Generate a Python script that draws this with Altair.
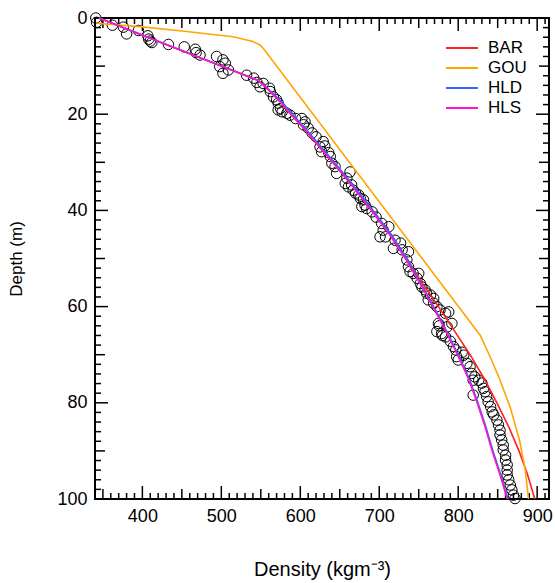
import altair as alt
import pandas as pd

# ---------------- data ----------------
obs_density = [341, 342, 362, 376, 395, 380, 407, 408, 410, 412, 433, 453, 467, 468, 473,
               494, 502, 505, 498, 509, 502, 532, 541, 545, 553, 549, 561, 562, 566, 570,
               572, 575, 572, 577, 583, 587, 594, 602, 606, 604, 610, 615, 620, 629, 631,
               625, 627, 636, 638, 640, 644, 663, 646, 659, 657, 665, 661, 667, 670, 674,
               676, 680, 682, 678, 684, 691, 696, 703, 712, 705, 708, 701, 720, 727, 718,
               729, 737, 735, 737, 739, 743, 750, 748, 752, 754, 758, 760, 765, 762, 769,
               769, 773, 777, 788, 784, 775, 792, 786, 776, 773, 779, 780, 784, 790, 794,
               797, 805, 807, 798, 800, 811, 815, 817, 821, 819, 826, 830, 832, 834, 819,
               836, 838, 841, 843, 845, 849, 851, 853, 853, 855, 857, 857, 860, 860, 862,
               862, 862, 864, 866, 868, 870, 872]
obs_depth = [0.0, 0.9, 1.5, 1.9, 2.6, 3.3, 3.7, 4.4, 4.8, 5.1, 5.5, 6.0, 6.5, 7.2, 7.7,
             8.0, 8.7, 9.4, 10.1, 10.8, 11.5, 11.9, 12.5, 13.4, 13.6, 14.3, 14.6, 15.3, 16.4, 17.0,
             17.7, 18.8, 19.1, 19.5, 19.8, 20.2, 20.9, 20.9, 21.6, 22.2, 22.9, 23.9, 24.7, 25.7, 26.6,
             26.8, 27.8, 28.0, 28.8, 30.2, 30.9, 32.0, 32.3, 33.3, 34.4, 34.7, 35.1, 35.8, 36.4, 36.8,
             37.5, 37.8, 38.9, 39.2, 39.6, 40.3, 41.4, 42.7, 43.4, 44.1, 45.5, 45.5, 46.2, 46.8, 47.9,
             48.2, 48.6, 50.3, 51.7, 52.7, 53.1, 53.1, 54.1, 55.2, 55.9, 56.5, 57.2, 57.6, 58.6, 58.3,
             59.3, 60.0, 60.7, 61.1, 61.4, 63.5, 63.5, 64.2, 64.0, 65.2, 65.6, 66.0, 66.3, 67.2, 68.3,
             69.0, 69.5, 70.1, 70.4, 71.1, 71.8, 72.5, 73.9, 74.6, 75.3, 75.3, 75.9, 77.0, 77.7, 78.4,
             78.7, 79.8, 80.8, 81.9, 82.5, 83.6, 84.6, 85.7, 86.7, 87.7, 88.8, 89.8, 90.9, 91.9, 92.9,
             94.0, 95.0, 96.0, 97.1, 98.1, 99.2, 99.9]

model_depth = [0, 5, 10, 13, 15, 17.5, 20, 22.5, 25, 30, 35, 40, 45, 50, 55, 60, 65, 70,
               75, 80, 85, 90, 95, 100]
bar_density = [345, 422, 500, 547, 560, 575, 588, 602, 615, 641, 667, 692, 715, 735, 754,
               775, 795, 815, 833, 849, 864, 877, 888, 897]
hld_density = [345, 422, 500, 547, 561, 577, 590, 604, 617, 643, 668, 692, 715, 735, 752,
               769, 785, 800, 814, 825, 835, 844, 854, 863]
hls_density = [345, 422, 500, 547, 560, 575, 588, 602, 615, 641, 666, 690, 713, 733, 751,
               768, 784, 799, 813, 824, 834, 843, 853, 862]
gou_depth = [1.1, 1.8, 2.8, 3.9, 4.9, 5.6, 6.5, 66.0, 71.0, 75.3, 81.0, 88.0, 94.0, 100.0]
gou_density = [342, 397, 456, 515, 540, 549, 554, 828, 842, 853, 866, 878, 885, 889]

models = ["BAR", "GOU", "HLD", "HLS"]
colors = ["#FF2020", "#FFA500", "#3366FF", "#FF14D0"]

x_labels = [400, 500, 600, 700, 800, 900]
y_labels = [0, 20, 40, 60, 80, 100]
x_tick_values = list(range(350, 911, 10))
y_tick_values = list(range(0, 101, 2))

# ---------------- tables ----------------
obs = pd.DataFrame({"density": obs_density, "depth": obs_depth})
lines = pd.concat([
    pd.DataFrame({"model": "BAR", "density": bar_density, "depth": model_depth}),
    pd.DataFrame({"model": "GOU", "density": gou_density, "depth": gou_depth}),
    pd.DataFrame({"model": "HLD", "density": hld_density, "depth": model_depth}),
    pd.DataFrame({"model": "HLS", "density": hls_density, "depth": model_depth}),
], ignore_index=True)


def kind_x(v):
    return "major" if v % 100 == 0 else ("medium" if v % 50 == 0 else "minor")


def kind_y(v):
    return "major" if v % 20 == 0 else ("medium" if v % 10 == 0 else "minor")


xt = pd.DataFrame({"v": x_tick_values, "kind": [kind_x(v) for v in x_tick_values]})
yt = pd.DataFrame({"v": y_tick_values, "kind": [kind_y(v) for v in y_tick_values]})

# ---------------- styling ----------------
W, H = 454, 481
FONT = "Liberation Sans"
tick_len = {"major": 13, "medium": 10, "minor": 6}

xscale = alt.Scale(domain=[340, 915], nice=False, zero=False)
yscale = alt.Scale(domain=[0, 100], reverse=True, nice=False, zero=False)

x_axis = alt.Axis(values=x_labels, title="Density (kgm\u207b\u00b3)", ticks=False, domain=False,
                  grid=False, labelFontSize=18, labelFont=FONT, titleFont=FONT,
                  titleFontSize=20, titleFontWeight="normal", labelPadding=8,
                  titlePadding=34, labelColor="black", titleColor="black", labelFlush=False)
y_axis = alt.Axis(values=y_labels, title="Depth (m)", ticks=False, domain=False, grid=False,
                  labelFontSize=18, labelFont=FONT, titleFont=FONT, titleFontSize=17,
                  titleFontWeight="normal", labelPadding=8, titlePadding=31,
                  labelColor="black", titleColor="black", labelFlush=False)

X = alt.X("density:Q", scale=xscale, axis=x_axis)
Y = alt.Y("depth:Q", scale=yscale, axis=y_axis)

layers = []

# tick marks, pointing inward on all four sides
for kind, L in tick_len.items():
    bx = alt.Chart(xt).transform_filter(alt.datum.kind == kind).mark_rule(
        color="black", strokeWidth=1.5)
    xv = alt.X("v:Q", scale=xscale, axis=x_axis)
    layers.append(bx.encode(x=xv, y=alt.value(0), y2=alt.value(L)))
    layers.append(bx.encode(x=xv, y=alt.value(H), y2=alt.value(H - L)))
    by = alt.Chart(yt).transform_filter(alt.datum.kind == kind).mark_rule(
        color="black", strokeWidth=1.5)
    yv = alt.Y("v:Q", scale=yscale, axis=y_axis)
    layers.append(by.encode(y=yv, x=alt.value(0), x2=alt.value(L)))
    layers.append(by.encode(y=yv, x=alt.value(W), x2=alt.value(W - L)))

# observations
layers.append(alt.Chart(obs).mark_point(shape="circle", filled=False, color="black",
                                        size=110, strokeWidth=1, opacity=1).encode(x=X, y=Y))

color = alt.Color("model:N", scale=alt.Scale(domain=models, range=colors),
                  legend=alt.Legend(title=None, orient="none", legendX=358, legendY=21,
                                    symbolType="M-2,0H2", symbolSize=256,
                                    symbolStrokeWidth=2, symbolOpacity=1,
                                    labelFontSize=17, labelFont=FONT, labelColor="black",
                                    labelOffset=17, rowPadding=3, padding=0))

for m in models:
    layers.append(alt.Chart(lines).transform_filter(alt.datum.model == m)
                  .mark_line(strokeWidth=1.6)
                  .encode(x=X, y=Y, order=alt.Order("depth:Q"), color=color))

chart = alt.layer(*layers).properties(
    width=W, height=H,
    padding={"left": 95, "top": 18, "right": 6, "bottom": 84},
    autosize=alt.AutoSizeParams(type="none"),
    background="white",
).configure_view(stroke="black", strokeWidth=2)

chart.save("out.html", embed_options={"renderer": "svg", "actions": False})
